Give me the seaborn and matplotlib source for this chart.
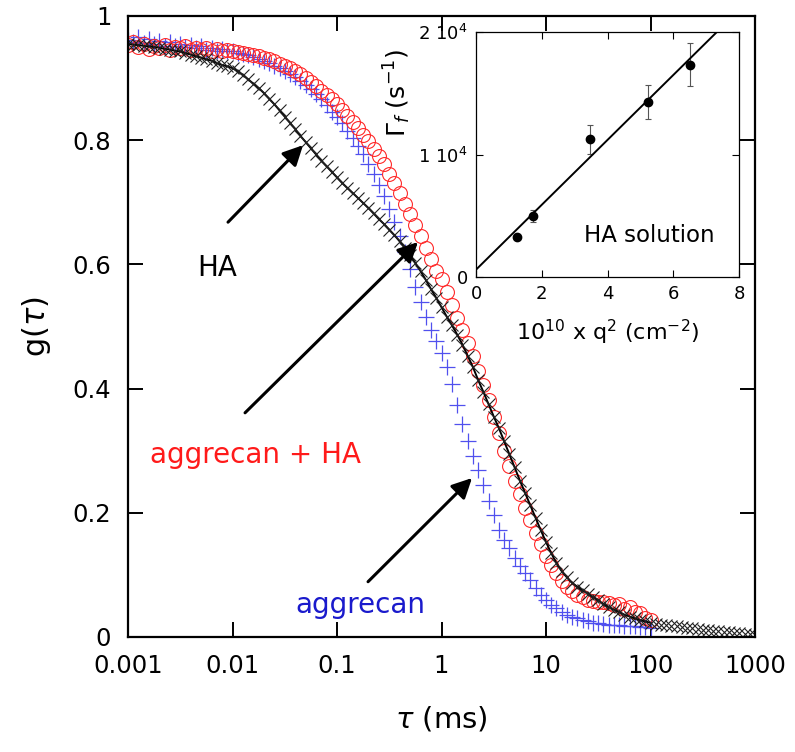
import numpy as np
import pandas as pd
import matplotlib
matplotlib.use("Agg")
import matplotlib.pyplot as plt
import seaborn as sns

# ---------------- data ----------------
# log10(tau / ms) sampling grid of the correlator
log_tau_ha = np.round(np.arange(-3.0, 3.0001, 0.05), 2)
log_tau_ag = np.round(np.arange(-3.0, 2.0001, 0.05), 2)

g_ha = [0.955, 0.954, 0.953, 0.952, 0.951, 0.950, 0.949, 0.947, 0.946, 0.944,
        0.943, 0.940, 0.938, 0.935, 0.933, 0.930, 0.928, 0.924, 0.921, 0.919,
        0.916, 0.911, 0.905, 0.898, 0.891, 0.884, 0.876, 0.867, 0.858, 0.848,
        0.838, 0.828, 0.818, 0.807, 0.797, 0.787, 0.777, 0.767, 0.758, 0.749,
        0.740, 0.731, 0.723, 0.715, 0.707, 0.699, 0.691, 0.682, 0.673, 0.665,
        0.656, 0.647, 0.637, 0.626, 0.615, 0.602, 0.589, 0.575, 0.560, 0.546,
        0.531, 0.516, 0.502, 0.487, 0.471, 0.453, 0.435, 0.414, 0.395, 0.375,
        0.355, 0.336, 0.315, 0.294, 0.273, 0.252, 0.232, 0.212, 0.192, 0.172,
        0.153, 0.135, 0.119, 0.106, 0.096, 0.087, 0.081, 0.075, 0.070, 0.064,
        0.059, 0.053, 0.048, 0.044, 0.040, 0.036, 0.033, 0.030, 0.027, 0.025,
        0.023, 0.021, 0.020, 0.019, 0.018, 0.017, 0.016, 0.015, 0.014, 0.013,
        0.012, 0.011, 0.010, 0.009, 0.008, 0.008, 0.007, 0.006, 0.005, 0.005,
        0.004]

g_ag_ha = [0.953, 0.958, 0.950, 0.955, 0.947, 0.952, 0.949, 0.954, 0.946, 0.950,
           0.948, 0.951, 0.945, 0.949, 0.946, 0.948, 0.944, 0.947, 0.943, 0.946,
           0.944, 0.942, 0.941, 0.939, 0.937, 0.935, 0.933, 0.930, 0.927, 0.923,
           0.920, 0.916, 0.911, 0.906, 0.900, 0.894, 0.887, 0.880, 0.873, 0.866,
           0.859, 0.849, 0.839, 0.829, 0.819, 0.809, 0.798, 0.786, 0.774, 0.761,
           0.746, 0.731, 0.715, 0.698, 0.681, 0.663, 0.645, 0.627, 0.608, 0.590,
           0.577, 0.555, 0.535, 0.514, 0.494, 0.474, 0.452, 0.428, 0.405, 0.381,
           0.355, 0.328, 0.300, 0.275, 0.252, 0.230, 0.208, 0.188, 0.168, 0.150,
           0.131, 0.116, 0.103, 0.090, 0.081, 0.074, 0.068, 0.064, 0.060, 0.058,
           0.056, 0.056, 0.055, 0.052, 0.053, 0.045, 0.048, 0.040, 0.039, 0.031,
           0.027]

g_ag = [0.962, 0.958, 0.966, 0.957, 0.963, 0.955, 0.960, 0.952, 0.958, 0.951,
        0.955, 0.950, 0.953, 0.948, 0.951, 0.946, 0.949, 0.944, 0.947, 0.943,
        0.944, 0.941, 0.939, 0.937, 0.934, 0.931, 0.928, 0.924, 0.920, 0.916,
        0.911, 0.906, 0.901, 0.895, 0.889, 0.882, 0.874, 0.866, 0.857, 0.846,
        0.837, 0.827, 0.815, 0.803, 0.790, 0.777, 0.762, 0.746, 0.728, 0.710,
        0.690, 0.668, 0.645, 0.620, 0.592, 0.563, 0.539, 0.516, 0.495, 0.476,
        0.457, 0.434, 0.407, 0.374, 0.343, 0.316, 0.292, 0.269, 0.244, 0.219,
        0.196, 0.173, 0.157, 0.143, 0.128, 0.115, 0.103, 0.092, 0.079, 0.068,
        0.059, 0.052, 0.046, 0.041, 0.036, 0.032, 0.030, 0.028, 0.025, 0.023,
        0.022, 0.021, 0.020, 0.020, 0.019, 0.018, 0.017, 0.017, 0.016, 0.016,
        0.015]

x_ticks = [0.001, 0.01, 0.1, 1, 10, 100, 1000]
x_tick_labels = ["0.001", "0.01", "0.1", "1", "10", "100", "1000"]
y_ticks = [0, 0.2, 0.4, 0.6, 0.8, 1.0]
y_tick_labels = ["0", "0.2", "0.4", "0.6", "0.8", "1"]

# inset: relaxation rate vs q^2
q2 = [1.24, 1.73, 3.48, 5.22, 6.50]            # 10^10 cm^-2
gamma_f = [3270, 4990, 11230, 14280, 17330]    # s^-1
gamma_err = [0, 480, 1150, 1420, 1740]
inset_yticks = [0, 10000, 20000]
inset_ytick_labels = ["0", r"1 10$^4$", r"2 10$^4$"]
inset_xticks = [0, 2, 4, 6, 8]

# ---------------- style ----------------
sns.set_style("ticks")
plt.rcParams["font.family"] = ["DejaVu Sans"]
plt.rcParams["mathtext.fontset"] = "dejavusans"
plt.rcParams["text.color"] = "black"
plt.rcParams["axes.labelcolor"] = "black"
plt.rcParams["xtick.color"] = "black"
plt.rcParams["ytick.color"] = "black"

df_ha = pd.DataFrame({"tau": 10.0 ** log_tau_ha, "g": g_ha})
df_ag_ha = pd.DataFrame({"tau": 10.0 ** log_tau_ag, "g": g_ag_ha})
df_ag = pd.DataFrame({"tau": 10.0 ** log_tau_ag, "g": g_ag})

fig = plt.figure(figsize=(7.95, 7.52), dpi=100)
ax = fig.add_axes([128 / 795, 1 - 637 / 752, 627 / 795, 621 / 752])

blue = "#5050ee"
red = "#ff2a2a"

sns.lineplot(data=df_ag, x="tau", y="g", ax=ax, estimator=None, sort=False,
             linestyle="none", marker="+", markersize=12, markeredgewidth=0.9,
             markeredgecolor=blue, color=blue)
sns.lineplot(data=df_ag_ha, x="tau", y="g", ax=ax, estimator=None, sort=False,
             linestyle="none", marker="o", markersize=10, markerfacecolor="none",
             markeredgecolor=red, markeredgewidth=0.8, color=red)
sns.lineplot(data=df_ha[df_ha["tau"] <= 100], x="tau", y="g", ax=ax,
             estimator=None, sort=False, color="black", linewidth=1.4)
sns.lineplot(data=df_ha, x="tau", y="g", ax=ax, estimator=None, sort=False,
             linestyle="none", marker="x", markersize=8.5, markeredgewidth=0.8,
             markeredgecolor="#222222", color="#222222")

ax.set_xscale("log")
ax.set_xlim(1e-3, 1e3)
ax.set_ylim(0, 1)
ax.set_xticks(x_ticks)
ax.set_xticklabels(x_tick_labels)
ax.set_yticks(y_ticks)
ax.set_yticklabels(y_tick_labels)
ax.minorticks_off()
ax.tick_params(which="major", direction="in", length=11, width=1.4,
               top=True, right=True, labelsize=17.5, pad=12, colors="black")
for s in ax.spines.values():
    s.set_linewidth(1.6)
    s.set_color("black")
ax.set_xlabel(r"$\tau$ (ms)", fontsize=21, labelpad=19)
ax.set_ylabel(r"g($\tau$)", fontsize=22, labelpad=14)

# annotations
aprops = dict(arrowstyle="-|>", lw=2.2, color="black", mutation_scale=30,
              shrinkA=0, shrinkB=0)
ax.annotate("", xy=(10 ** -1.325, 0.792), xytext=(10 ** -2.043, 0.668),
            arrowprops=aprops)
ax.annotate("", xy=(10 ** -0.225, 0.636), xytext=(10 ** -1.88, 0.361),
            arrowprops=aprops)
ax.annotate("", xy=(10 ** 0.292, 0.256), xytext=(10 ** -0.703, 0.089),
            arrowprops=aprops)
ax.text(0.142, 0.594, "HA", transform=ax.transAxes, fontsize=20,
        ha="center", va="center", color="black")
ax.text(0.372, 0.293, "aggrecan + HA", transform=ax.transAxes, fontsize=20,
        ha="right", va="center", color="#ff1a1a")
ax.text(0.37, 0.052, "aggrecan", transform=ax.transAxes, fontsize=20,
        ha="center", va="center", color="#1a1acc")

# inset
axi = fig.add_axes([476 / 795, 1 - 277 / 752, 263 / 795, 245 / 752])
axi.set_xlim(0, 8)
axi.set_ylim(0, 20000)
axi.errorbar(q2, gamma_f, yerr=gamma_err, fmt="none", ecolor="#555555",
             elinewidth=0.8, capsize=2, capthick=0.8)
sns.regplot(x=q2, y=gamma_f, ax=axi, ci=None, truncate=False,
            scatter_kws=dict(s=36, color="black", alpha=1, zorder=5),
            line_kws=dict(color="black", lw=1.4))
axi.set_xticks(inset_xticks)
axi.set_yticks(inset_yticks)
axi.set_yticklabels(inset_ytick_labels)
axi.tick_params(direction="in", length=5, width=0.8, top=True, right=True,
                labelsize=13, pad=6, colors="black")
for s in axi.spines.values():
    s.set_linewidth(0.9)
    s.set_color("black")
axi.set_xlabel(r"10$^{10}$ x q$^2$ (cm$^{-2}$)", fontsize=16)
axi.set_ylabel(r"$\Gamma_f$ (s$^{-1}$)", fontsize=18)
axi.yaxis.set_label_coords(-0.24, 0.75)
axi.xaxis.set_label_coords(0.5, -0.165)
axi.text(0.909, 0.171, "HA solution", transform=axi.transAxes, fontsize=16.5,
         ha="right", va="center", color="black")

fig.savefig("out.png", dpi=100)
